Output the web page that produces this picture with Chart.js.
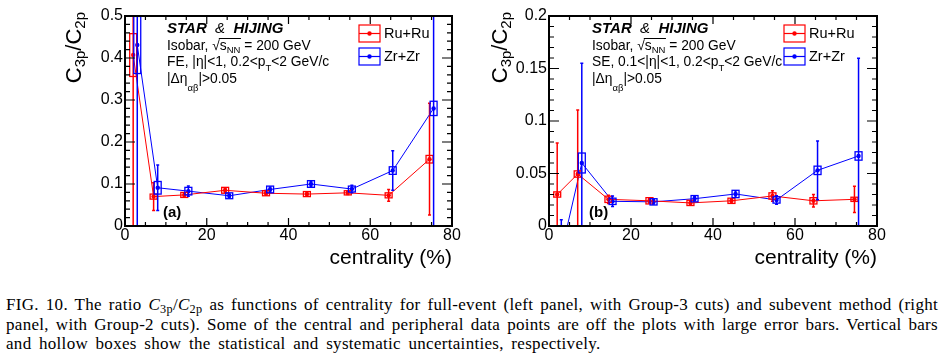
<!DOCTYPE html>
<html><head><meta charset="utf-8">
<script src="https://cdn.jsdelivr.net/npm/chart.js@4.4.1/dist/chart.umd.min.js"></script>
<style>
html,body{margin:0;padding:0;background:#fff;width:944px;height:355px;overflow:hidden}
canvas{position:absolute;top:0}
#c1{left:0}
#c2{left:472px}
#cap{position:absolute;left:6px;top:295px;width:932px;font-family:'Liberation Serif','Times New Roman',serif;font-size:17px;line-height:19.5px;color:#000;letter-spacing:0.3px}
#cap div{white-space:normal}
#cap .j{text-align:justify;text-align-last:justify}
#cap .l{word-spacing:3px}
#cap sub{font-size:0.72em;vertical-align:-0.25em;line-height:0;font-style:normal}
</style></head>
<body>
<canvas id="c1" width="472" height="280"></canvas>
<canvas id="c2" width="472" height="280"></canvas>
<div id="cap">
<div class="j">FIG. 10. The ratio <i>C</i><sub>3p</sub>/<i>C</i><sub>2p</sub> as functions of centrality for full-event (left panel, with Group-3 cuts) and subevent method (right</div>
<div class="j">panel, with Group-2 cuts). Some of the central and peripheral data points are off the plots with large error bars. Vertical bars</div>
<div class="l">and hollow boxes show the statistical and systematic uncertainties, respectively.</div>
</div>
<script>
// ---------------- data ----------------
const seriesNames = ['Ru+Ru', 'Zr+Zr'];
const centralityRu = [2, 7, 14.5, 24.5, 34.5, 44.5, 54.5, 64.5, 74.5];
const centralityZr = [3, 8, 15.5, 25.5, 35.5, 45.5, 55.5, 65.5, 75.5];

// (a) full-event
const ratioRuFE = [0.407, 0.070, 0.074, 0.085, 0.078, 0.076, 0.079, 0.073, 0.159];
const statRuFE  = [0.45, 0.033, 0.005, 0.005, 0.005, 0.004, 0.004, 0.014, 0.133];
const sysRuFE   = [0.051, 0.006, 0.006, 0.007, 0.006, 0.006, 0.005, 0.006, 0.009];
const ratioZrFE = [0.431, 0.091, 0.083, 0.072, 0.087, 0.100, 0.088, 0.132, 0.280];
const statZrFE  = [0.6, 0.054, 0.012, 0.004, 0.006, 0.006, 0.009, 0.047, 0.4];
const sysZrFE   = [0.068, 0.015, 0.009, 0.007, 0.008, 0.008, 0.007, 0.009, 0.017];

// (b) subevent
const ratioRuSE = [0.030, 0.0495, 0.0254, 0.0240, 0.0220, 0.0240, 0.0286, 0.0240, 0.0254];
const statRuSE  = [0.049, 0.061, 0.004, 0.002, 0.002, 0.002, 0.005, 0.006, 0.0125];
const sysRuSE   = [0.0025, 0.003, 0.003, 0.003, 0.0025, 0.0025, 0.003, 0.003, 0.002];
const ratioZrSE = [-0.025, 0.060, 0.0235, 0.0230, 0.0260, 0.0305, 0.0248, 0.053, 0.0667];
const statZrSE  = [0.031, 0.095, 0.005, 0.002, 0.002, 0.003, 0.004, 0.028, 0.093];
const sysZrSE   = [0.003, 0.0095, 0.003, 0.003, 0.003, 0.0035, 0.003, 0.004, 0.004];

// axis ranges / ticks
const xRange = [0, 80];
const xMajorStep = 20, xMinorStep = 5;
const yMaxFE = 0.5, yMajorFE = 0.1, yMinorFE = 0.02;
const yMaxSE = 0.2, yMajorSE = 0.05, yMinorSE = 0.01;
const xTitle = 'centrality (%)';

// ---------------- styling ----------------
const FAM = "'Liberation Sans', Arial, Helvetica, sans-serif";
const RED = '#ff0000', BLUE = '#0000ff';
const BOXW = 0.85; // half-width of systematic boxes (x units)
Chart.defaults.font.family = FAM;
Chart.defaults.color = '#000';

function rich(ctx, x, y, parts, base) {
  for (const p of parts) {
    ctx.font = (p.f || '') + ' ' + (p.s || base) + 'px ' + FAM;
    ctx.fillText(p.t, x, y + (p.dy || 0));
    const w = ctx.measureText(p.t).width;
    p._x0 = x; p._x1 = x + w;
    x += w;
  }
  return x;
}

function drawErr(ctx, xs, ys, xv, yv, st, sy, col) {
  ctx.strokeStyle = col;
  for (let i = 0; i < xv.length; i++) {
    const px = xs.getPixelForValue(xv[i]);
    const t = ys.getPixelForValue(yv[i] + st[i]);
    const b = ys.getPixelForValue(yv[i] - st[i]);
    ctx.lineWidth = 1.5;
    ctx.beginPath();
    ctx.moveTo(px, t); ctx.lineTo(px, b);
    ctx.moveTo(px - 1.5, t); ctx.lineTo(px + 1.5, t);
    ctx.moveTo(px - 1.5, b); ctx.lineTo(px + 1.5, b);
    ctx.stroke();
    const bx0 = xs.getPixelForValue(xv[i] - BOXW), bx1 = xs.getPixelForValue(xv[i] + BOXW);
    const by0 = ys.getPixelForValue(yv[i] + sy[i]), by1 = ys.getPixelForValue(yv[i] - sy[i]);
    ctx.lineWidth = 1.3;
    ctx.strokeRect(bx0, by0, bx1 - bx0, by1 - by0);
  }
}

function legendGlyph(ctx, x, y, w, h, col) {
  ctx.strokeStyle = col; ctx.fillStyle = col; ctx.lineWidth = 1.2;
  ctx.strokeRect(x, y, w, h);
  ctx.beginPath(); ctx.moveTo(x, y + h / 2); ctx.lineTo(x + w, y + h / 2); ctx.stroke();
  ctx.beginPath(); ctx.arc(x + w / 2, y + h / 2, 2.2, 0, Math.PI * 2); ctx.fill();
}

function makePlugin(cfg) {
  return {
    id: 'deco' + cfg.tag,
    afterDatasetsDraw(chart) {
      const { ctx, chartArea: a, scales: { x, y } } = chart;
      // error bars and boxes
      ctx.save();
      ctx.beginPath(); ctx.rect(a.left, a.top, a.right - a.left, a.bottom - a.top); ctx.clip();
      drawErr(ctx, x, y, centralityRu, cfg.yRu, cfg.stRu, cfg.syRu, RED);
      drawErr(ctx, x, y, centralityZr, cfg.yZr, cfg.stZr, cfg.syZr, BLUE);
      ctx.restore();

      // frame
      ctx.save();
      ctx.strokeStyle = '#000'; ctx.lineWidth = 2;
      ctx.strokeRect(a.left, a.top, a.right - a.left, a.bottom - a.top);
      ctx.lineWidth = 1.2;
      ctx.beginPath();
      for (let v = xRange[0]; v <= xRange[1] + 1e-9; v += xMinorStep) {
        const px = x.getPixelForValue(v);
        const len = (Math.abs(v % xMajorStep) < 1e-9) ? 8 : 4;
        ctx.moveTo(px, a.bottom); ctx.lineTo(px, a.bottom - len);
        ctx.moveTo(px, a.top); ctx.lineTo(px, a.top + len);
      }
      const n = Math.round(cfg.yMax / cfg.yMinor);
      const per = Math.round(cfg.yMajor / cfg.yMinor);
      for (let k = 0; k <= n; k++) {
        const py = y.getPixelForValue(k * cfg.yMinor);
        const len = (k % per === 0) ? 10 : 5;
        ctx.moveTo(a.left, py); ctx.lineTo(a.left + len, py);
        ctx.moveTo(a.right, py); ctx.lineTo(a.right - len, py);
      }
      ctx.stroke();
      ctx.restore();

      // annotations
      ctx.save();
      ctx.fillStyle = '#000';
      ctx.textBaseline = 'alphabetic';
      const tx = cfg.textX;
      rich(ctx, tx, 33, [
        { t: 'STAR', f: 'italic bold' }, { t: '  &  ', f: 'italic' }, { t: 'HIJING', f: 'italic bold' }
      ], 15);
      const l2 = [
        { t: 'Isobar, ' }, { t: '\u221A' }, { t: 's' }, { t: 'NN', s: 9.5, dy: 3 }, { t: ' = 200 GeV' }
      ];
      rich(ctx, tx, 50, l2, 13.8);
      ctx.strokeStyle = '#000'; ctx.lineWidth = 1;
      ctx.beginPath(); ctx.moveTo(l2[1]._x1 - 1, 38.5); ctx.lineTo(l2[3]._x1 + 0.5, 38.5); ctx.stroke();
      rich(ctx, tx, 66, [
        { t: cfg.cutText }, { t: 'T', s: 9.5, dy: 5 }, { t: '<2 GeV/c' }
      ], 13.8);
      rich(ctx, tx, 83, [
        { t: '|\u0394\u03B7' }, { t: '\u03B1\u03B2', s: 9.5, dy: 8 }, { t: '|>0.05' }
      ], 13.8);
      // panel label
      ctx.font = 'bold 15px ' + FAM;
      ctx.textBaseline = 'middle';
      ctx.fillText(cfg.panelLabel, cfg.labelX, 213);

      // legend
      const lx = cfg.legX;
      legendGlyph(ctx, lx, 25, 21, 17, RED);
      legendGlyph(ctx, lx, 48, 21, 17, BLUE);
      ctx.fillStyle = '#000';
      ctx.font = '14.5px ' + FAM;
      ctx.textBaseline = 'middle';
      ctx.fillText(seriesNames[0], lx + 25, 34);
      ctx.fillText(seriesNames[1], lx + 25, 57);

      // y-axis title (rotated, aligned at top)
      const yt = [
        { t: 'C', s: 22 }, { t: '3p', s: 15, dy: 4 }, { t: '/C', s: 22 }, { t: '2p', s: 15, dy: 4 }
      ];
      let tot = 0;
      for (const p of yt) { ctx.font = p.s + 'px ' + FAM; tot += ctx.measureText(p.t).width; }
      ctx.translate(cfg.yTitleX, 12);
      ctx.rotate(-Math.PI / 2);
      ctx.textBaseline = 'alphabetic';
      rich(ctx, -tot, 0, yt, 22);
      ctx.restore();
    }
  };
}

function panel(id, cfg) {
  const mk = (xv, yv, col, lab) => ({
    label: lab,
    data: xv.map((v, i) => ({ x: v, y: yv[i] })),
    borderColor: col, backgroundColor: col,
    borderWidth: 1, pointRadius: 2.2, pointHoverRadius: 2.2, pointBorderWidth: 0,
    tension: 0
  });
  return new Chart(document.getElementById(id), {
    type: 'line',
    data: { datasets: [mk(centralityRu, cfg.yRu, RED, seriesNames[0]), mk(centralityZr, cfg.yZr, BLUE, seriesNames[1])] },
    options: {
      responsive: false, animation: false, devicePixelRatio: 1, events: [],
      layout: { padding: { top: 16, right: cfg.padRight, left: 0, bottom: 0 } },
      plugins: { legend: { display: false }, tooltip: { enabled: false } },
      scales: {
        x: {
          type: 'linear', min: xRange[0], max: xRange[1],
          afterFit: s => { s.height = 54; },
          grid: { display: false, drawTicks: false }, border: { display: false },
          ticks: { stepSize: xMajorStep, padding: 0, color: '#000', font: { size: 16 }, maxRotation: 0, autoSkip: false },
          title: { display: true, text: xTitle, align: 'end', color: '#000', font: { size: 21 }, padding: { top: 0, bottom: 9 } }
        },
        y: {
          type: 'linear', min: 0, max: cfg.yMax,
          afterFit: s => { s.width = cfg.yWidth; },
          grid: { display: false, drawTicks: false }, border: { display: false },
          ticks: { stepSize: cfg.yMajor, padding: 2, color: '#000', font: { size: 16 }, callback: v => String(+v.toFixed(3)) }
        }
      }
    },
    plugins: [makePlugin(cfg)]
  });
}

panel('c1', {
  tag: 'a', yRu: ratioRuFE, stRu: statRuFE, syRu: sysRuFE, yZr: ratioZrFE, stZr: statZrFE, syZr: sysZrFE,
  yMax: yMaxFE, yMajor: yMajorFE, yMinor: yMinorFE, yWidth: 125, padRight: 20,
  textX: 167, cutText: 'FE, |\u03B7|<1, 0.2<p', panelLabel: '(a)', labelX: 163, legX: 359, yTitleX: 81
});
panel('c2', {
  tag: 'b', yRu: ratioRuSE, stRu: statRuSE, syRu: sysRuSE, yZr: ratioZrSE, stZr: statZrSE, syZr: sysZrSE,
  yMax: yMaxSE, yMajor: yMajorSE, yMinor: yMinorSE, yWidth: 77, padRight: 67,
  textX: 120, cutText: 'SE, 0.1<|\u03B7|<1, 0.2<p', panelLabel: '(b)', labelX: 117, legX: 312, yTitleX: 35
});
</script>
</body></html>
